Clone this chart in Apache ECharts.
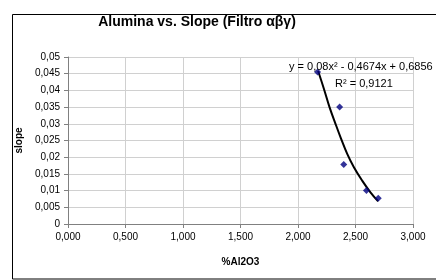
<!DOCTYPE html>
<html>
<head>
<meta charset="utf-8">
<script src="https://cdn.jsdelivr.net/npm/echarts@6/dist/echarts.min.js"></script>
<style>
  html, body { margin: 0; padding: 0; background: #fff; }
  #main { width: 436px; height: 280px; }
</style>
</head>
<body>
<div id="main"></div>
<script>
// datos
var alumina = [2.170, 2.362, 2.398, 2.595, 2.698];
var slope = [0.0455, 0.035, 0.0178, 0.010, 0.0077];

// linea de tendencia
var trendX = [2.175, 2.225, 2.274, 2.326, 2.375, 2.428, 2.486, 2.558, 2.630, 2.697];
var trendY = [0.0458, 0.0405, 0.0350, 0.0300, 0.0255, 0.0210, 0.0170, 0.0130, 0.0095, 0.0068];

var xTickLabels = ['0,000', '0,500', '1,000', '1,500', '2,000', '2,500', '3,000'];
var yTickLabels = ['0', '0,005', '0,01', '0,015', '0,02', '0,025', '0,03', '0,035', '0,04', '0,045', '0,05'];

var chart = echarts.init(document.getElementById('main'));

var pts = alumina.map(function (x, i) { return [x, slope[i]]; });
var trend = trendX.map(function (x, i) { return [x, trendY[i]]; });

var fam = 'Liberation Sans, Arial, sans-serif';

var option = {
    animation: false,
    textStyle: { fontFamily: fam },
    title: {
        text: 'Alumina vs. Slope (Filtro αβγ)',
        left: 192,
        top: 10,
        textAlign: 'center',
        textStyle: { fontSize: 14, fontWeight: 'bold', color: '#000' }
    },
    grid: { left: 68, right: 23, top: 57, bottom: 56 },
    xAxis: {
        type: 'value',
        min: 0, max: 3, interval: 0.5,
        name: '%Al2O3',
        nameLocation: 'middle',
        nameGap: 33,
        nameTextStyle: { fontSize: 10, fontWeight: 'bold', color: '#000' },
        axisLine: { lineStyle: { color: '#808080' } },
        axisTick: { show: true, length: 4, lineStyle: { color: '#808080' } },
        axisLabel: {
            fontSize: 10, color: '#000', margin: 8,
            formatter: function (v, i) { return xTickLabels[i]; }
        },
        splitLine: { show: true, lineStyle: { color: '#d0d0d0' } }
    },
    yAxis: {
        type: 'value',
        min: 0, max: 0.05, interval: 0.005,
        name: 'slope',
        nameLocation: 'middle',
        nameGap: 42,
        nameTextStyle: { fontSize: 10, fontWeight: 'bold', color: '#000' },
        axisLine: { show: true, lineStyle: { color: '#808080' } },
        axisTick: { show: true, length: 4, lineStyle: { color: '#808080' } },
        axisLabel: {
            fontSize: 10, color: '#000', margin: 8,
            formatter: function (v, i) { return yTickLabels[i]; }
        },
        splitLine: { show: true, lineStyle: { color: '#d0d0d0' } }
    },
    graphic: [
        {
            type: 'rect', silent: true, z: -1,
            shape: { x: 12.5, y: 14.5, width: 440, height: 264.5 },
            style: { fill: 'none', stroke: '#000', lineWidth: 1 }
        },
        {
            type: 'text', left: 289, top: 61, z: 10,
            style: { text: 'y = 0,08x² - 0,4674x + 0,6856', fontSize: 11, fill: '#000', fontFamily: fam }
        },
        {
            type: 'text', left: 335, top: 78, z: 10,
            style: { text: 'R² = 0,9121', fontSize: 11, fill: '#000', fontFamily: fam }
        }
    ],
    series: [
        {
            type: 'line',
            data: trend,
            smooth: 0.4,
            showSymbol: false,
            lineStyle: { color: '#000', width: 2 },
            z: 2
        },
        {
            type: 'scatter',
            data: pts,
            symbol: 'diamond',
            symbolSize: 7,
            itemStyle: { color: '#000080' },
            z: 3
        }
    ]
};

chart.setOption(option);
</script>
</body>
</html>
